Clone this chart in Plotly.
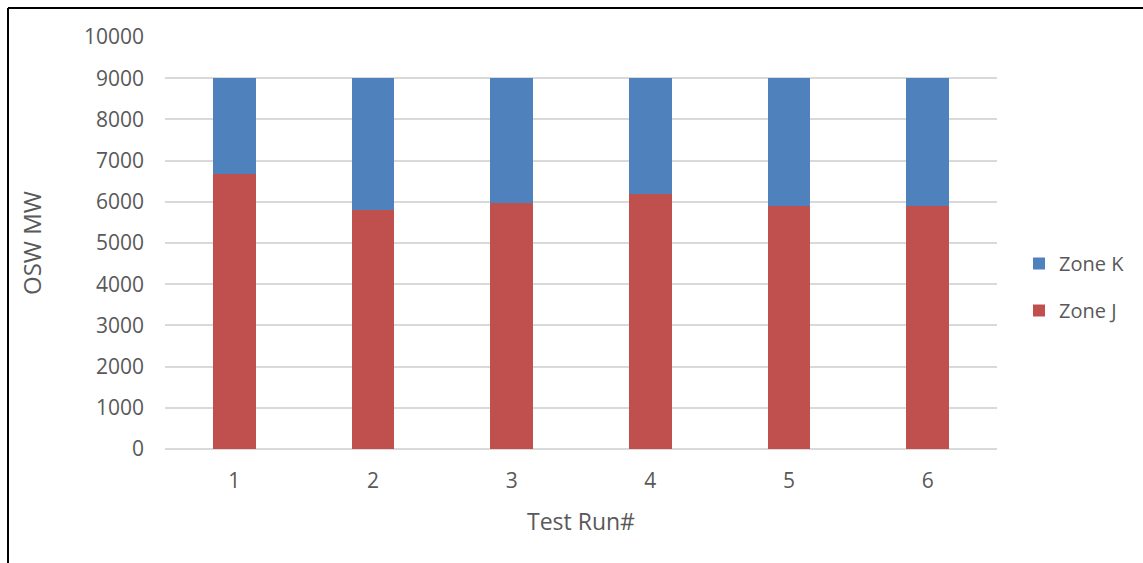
import plotly.graph_objects as go

# Test runs and offshore wind MW assigned to each zone
runs = ["1", "2", "3", "4", "5", "6"]
zone_j = [6680, 5800, 5960, 6180, 5910, 5910]
zone_k = [2320, 3200, 3040, 2820, 3090, 3090]

y_ticks = list(range(0, 10001, 1000))
y_tick_text = [str(v) for v in y_ticks]

TEXT = "#595959"
FONT = "Open Sans"

fig = go.Figure()
fig.add_trace(go.Bar(x=runs, y=zone_j, name="Zone J", marker_color="#c0504d",
                     marker_line_width=0, legendgroup="j", legendrank=2))
fig.add_trace(go.Bar(x=runs, y=zone_k, name="Zone K", marker_color="#4f81bd",
                     marker_line_width=0, legendgroup="k", legendrank=1))

W, H = 1143, 563
L, R, T, B = 165, 146, 37, 114
pw, ph = W - L - R, H - T - B


def px(x):
    return (x - L) / pw


def py(y):
    return (H - B - y) / ph


fig.update_layout(
    width=W, height=H,
    margin=dict(l=L, r=R, t=T, b=B, autoexpand=False),
    paper_bgcolor="white", plot_bgcolor="white",
    barmode="stack", bargap=0.69,
    font=dict(family=FONT, color=TEXT, size=21),
    showlegend=True,
    legend=dict(x=px(1019), y=py(287), xanchor="left", yanchor="middle",
                traceorder="grouped", tracegroupgap=18,
                itemwidth=30, font=dict(size=20, color=TEXT)),
    xaxis=dict(showgrid=False, showline=False, zeroline=False,
               ticks="", tickfont=dict(size=21, color=TEXT),
               ticklabelstandoff=17,
               title=dict(text="Test Run#", font=dict(size=23, color=TEXT), standoff=20)),
    yaxis=dict(range=[0, 10000], tickvals=y_ticks, ticktext=y_tick_text,
               showgrid=True, gridcolor="#d9d9d9", gridwidth=1.5, zeroline=True,
               zerolinecolor="#d9d9d9", zerolinewidth=1.5, showline=False,
               ticks="", tickfont=dict(size=21, color=TEXT),
               ticklabelstandoff=20,
               title=dict(text="OSW MW", font=dict(size=24, color=TEXT), standoff=35)),
    shapes=[
        dict(type="line", xref="paper", yref="paper",
             x0=px(8), x1=px(W + 5), y0=py(8), y1=py(8),
             line=dict(color="black", width=2)),
        dict(type="line", xref="paper", yref="paper",
             x0=px(8), x1=px(8), y0=py(8), y1=py(H + 5),
             line=dict(color="black", width=2)),
    ],
)

fig.write_html("out.html")
